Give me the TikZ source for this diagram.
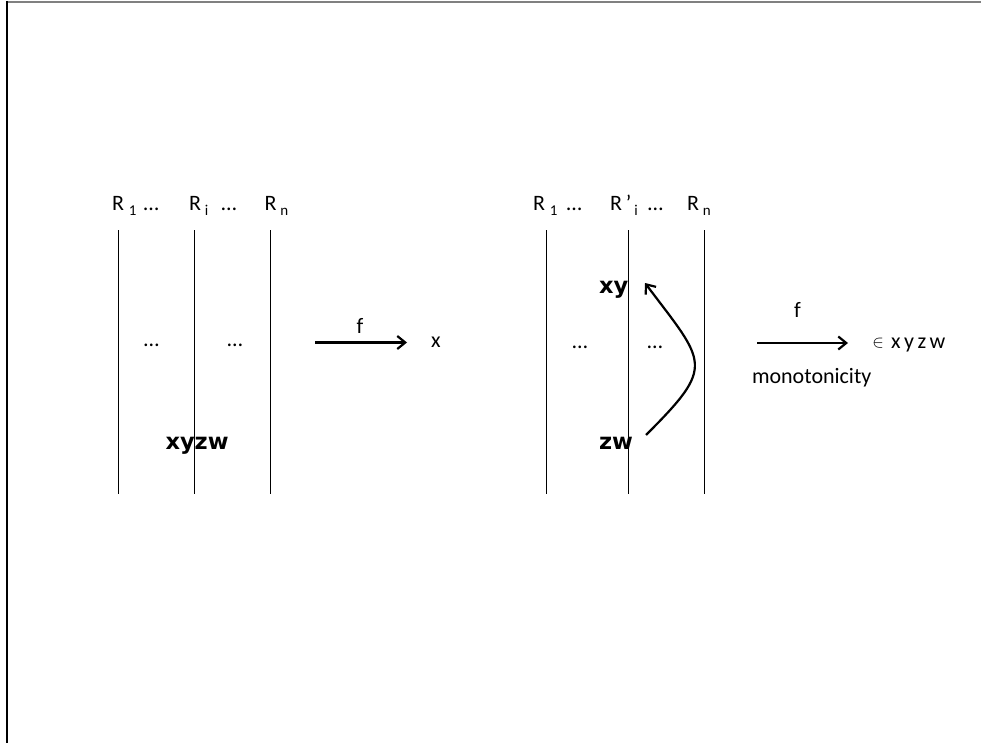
\documentclass[tikz,border=0pt]{standalone}
\usepackage{fontspec}
\setmainfont{Carlito}
\newfontfamily\dvs{DejaVu Sans}
\usetikzlibrary{arrows.meta}
\newcommand\sbs[1]{\lower5pt\hbox{\fontsize{15}{15}\selectfont #1}}
\begin{document}
\begin{tikzpicture}[x=1pt,y=-1pt,
  every node/.style={inner sep=0pt,outer sep=0pt},
  lbl/.style={anchor=base west,font=\fontsize{22}{24}\selectfont},
  dots/.style={anchor=base,font=\fontsize{22}{24}\selectfont},
  bold/.style={anchor=base west,font=\dvs\bfseries\fontsize{22.5}{24}\selectfont},
  vline/.style={line width=1pt},
  arr/.style={line width=2.2pt,-{Straight Barb[length=8pt,width=13pt]}},
]
\useasboundingbox (0,0) rectangle (981,743);
% frame
\draw[gray,line width=2pt] (7,2) -- (981,2);
\draw[line width=1.5pt] (7,1) -- (7,743);

% left group
\node[lbl] (la1) at (112,211) {R\kern5pt\sbs{1}\kern7pt…};
\node[lbl] (la2) at (189,211) {R\kern4pt\sbs{i}\kern13pt…};
\node[lbl] (la3) at (264.5,211) {R\kern4pt\sbs{n}};
\draw[vline] (118,230) -- (118,494);
\draw[vline] (194,230) -- (194,494);
\draw[vline] (270,230) -- (270,494);
\node[dots] (ld1) at (151.5,346.5) {…};
\node[dots] (ld2) at (235,346.5) {…};
\node[bold] (lxyzw) at (165.5,449) {xyzw};
\coordinate (la) at (315,342.5);
\coordinate (lb) at (407,342.5);
\draw[arr] (la) -- (lb);
\node[dots] (lf) at (360,333) {f};
\node[dots] (lx) at (436,347.5) {x};

% right group
\node[lbl] (ra1) at (533,211) {R\kern5pt\sbs{1}\kern9pt…};
\node[lbl] (ra2) at (610,211) {R\kern4pt’\kern3pt\sbs{i}\kern10pt…};
\node[lbl] (ra3) at (687,211) {R\kern4pt\sbs{n}};
\draw[vline] (546,230) -- (546,494);
\draw[vline] (628,230) -- (628,494);
\draw[vline] (704,230) -- (704,494);
\node[dots] (rd1) at (580,348) {…};
\node[dots] (rd2) at (655,348) {…};
\node[bold] (rxy) at (599,293) {xy};
\node[bold] (rzw) at (599,449) {zw};
\coordinate (cs) at (646,435);
\coordinate (ce) at (645,283);
\draw[arr] (cs) .. controls (716,365) and (706,364) .. (ce);
\coordinate (ra) at (757,343);
\coordinate (rb) at (848,343);
\draw[arr] (ra) -- (rb);
\node[dots] (rf) at (797.5,317) {f};
\node (rin) at (878,343) {\fontsize{16}{16}\selectfont$\in$};
\node[lbl] (rxyzw) at (891,348) {x\kern3.5pt y\kern3.5pt z\kern3.5pt w};
\node[lbl] (rmono) at (752,383) {monotonicity};
\end{tikzpicture}
\end{document}
